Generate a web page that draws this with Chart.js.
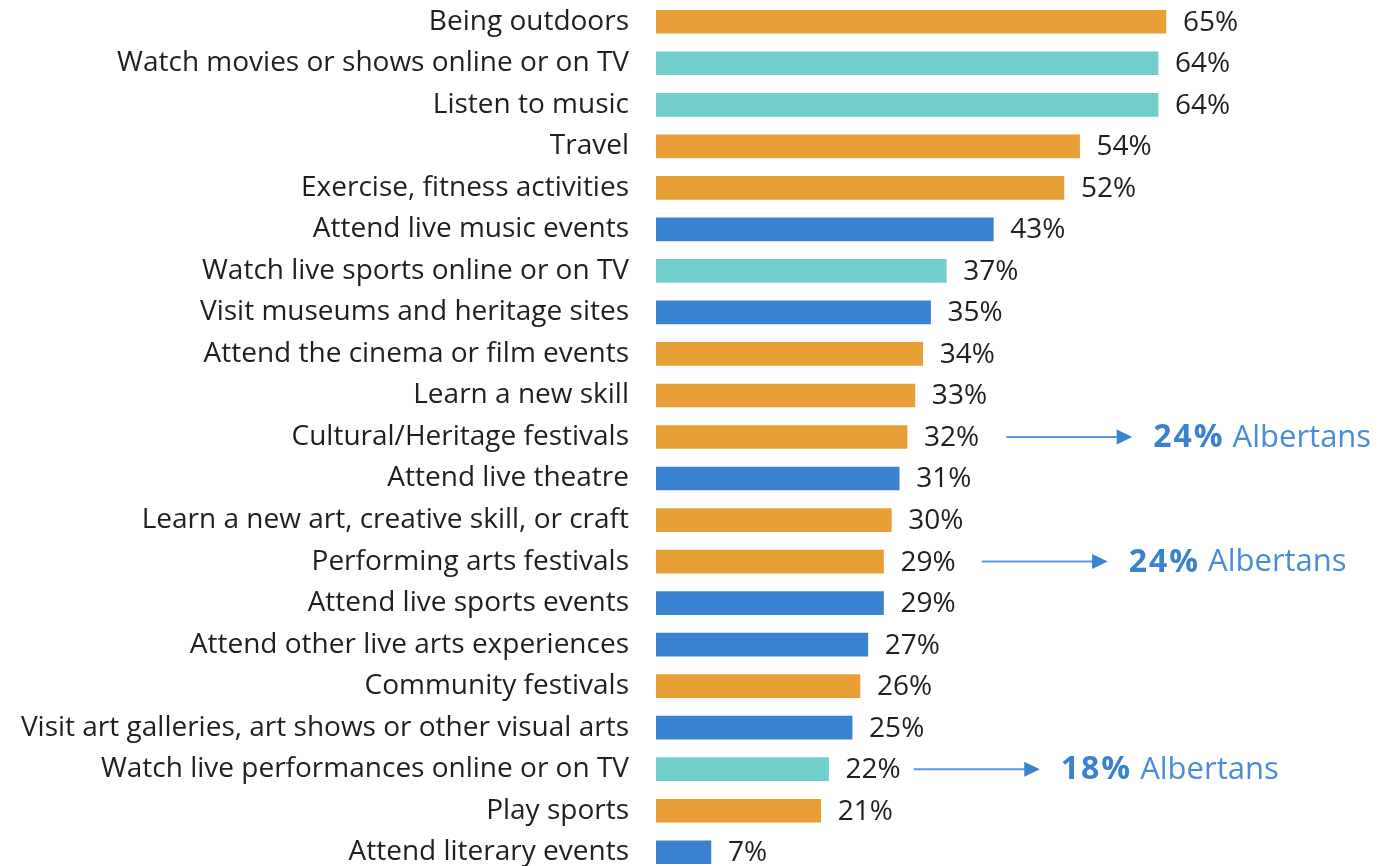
<!DOCTYPE html>
<html>
<head>
<meta charset="utf-8">
<script src="https://cdn.jsdelivr.net/npm/chart.js@4"></script>
<style>
  html, body { margin:0; padding:0; background:#fff; overflow:hidden; }
  canvas { display:block; }
</style>
</head>
<body>
<canvas id="chart" width="1383" height="874"></canvas>
<script>
// activities, share of respondents (%)
const activities = [
  'Being outdoors', 'Watch movies or shows online or on TV', 'Listen to music', 'Travel',
  'Exercise, fitness activities', 'Attend live music events', 'Watch live sports online or on TV',
  'Visit museums and heritage sites', 'Attend the cinema or film events', 'Learn a new skill',
  'Cultural/Heritage festivals', 'Attend live theatre', 'Learn a new art, creative skill, or craft',
  'Performing arts festivals', 'Attend live sports events', 'Attend other live arts experiences',
  'Community festivals', 'Visit art galleries, art shows or other visual arts',
  'Watch live performances online or on TV', 'Play sports', 'Attend literary events'
];
const shares = [65, 64, 64, 54, 52, 43, 37, 35, 34, 33, 32, 31, 30, 29, 29, 27, 26, 25, 22, 21, 7];
// o = orange, t = teal, b = blue
const groups = ['o','t','t','o','o','b','t','b','o','o','o','b','o','o','b','b','o','b','t','o','b'];

// Alberta comparison callouts
const noteRows = [10, 13, 18];
const noteValues = ['24%', '24%', '18%'];
const noteSuffix = 'Albertans';

const COLORS = { o:'#E89F35', t:'#72CECB', b:'#3A82D0' };
const ACCENT = '#3A82D0';
const FONT = '"Open Sans", Lato, sans-serif';
// gap between a value label and its callout arrow (hand placed in the original)
const ARROW_GAP = { 10:27, 13:26, 18:13 };

const valueLabels = {
  id:'valueLabels',
  afterDatasetsDraw(chart){
    const ctx = chart.ctx;
    const meta = chart.getDatasetMeta(0);
    ctx.save();
    ctx.font = '28px ' + FONT;
    ctx.fillStyle = '#1f1f1f';
    ctx.textBaseline = 'middle';
    ctx.textAlign = 'left';
    const ends = [];
    meta.data.forEach((bar, i) => {
      const txt = shares[i] + '%';
      const x = bar.x + 17;
      ctx.fillText(txt, x, bar.y + 1);
      ends.push(x + ctx.measureText(txt).width);
    });

    noteRows.forEach((row, k) => {
      const y = meta.data[row].y;
      const x0 = ends[row] + ARROW_GAP[row];
      const x1 = x0 + 126;
      ctx.strokeStyle = '#5E99DA';
      ctx.lineWidth = 2;
      ctx.beginPath();
      ctx.moveTo(x0, y);
      ctx.lineTo(x1 - 14, y);
      ctx.stroke();
      ctx.fillStyle = ACCENT;
      ctx.beginPath();
      ctx.moveTo(x1 - 15.5, y - 7.5);
      ctx.lineTo(x1, y);
      ctx.lineTo(x1 - 15.5, y + 7.5);
      ctx.closePath();
      ctx.fill();

      let tx = x1 + 21;
      ctx.font = 'bold 32px ' + FONT;
      ctx.letterSpacing = '2px';
      ctx.fillText(noteValues[k], tx, y + 1);
      tx += ctx.measureText(noteValues[k]).width + 8;
      ctx.letterSpacing = '0px';
      ctx.font = '31px ' + FONT;
      ctx.fillStyle = '#4A8DD6';
      ctx.fillText(noteSuffix, tx, y + 1);
    });
    ctx.restore();
  }
};

new Chart(document.getElementById('chart'), {
  type:'bar',
  data:{
    labels:activities,
    datasets:[{
      data:shares,
      backgroundColor:groups.map(g => COLORS[g]),
      borderWidth:0,
      barThickness:23
    }]
  },
  options:{
    indexAxis:'y',
    responsive:false,
    animation:false,
    layout:{ padding:{ top:1, bottom:1, left:0, right:21 } },
    plugins:{ legend:{ display:false }, tooltip:{ enabled:false } },
    scales:{
      x:{ display:false, min:0, max:90 },
      y:{
        grid:{ display:false, drawTicks:false },
        border:{ display:false },
        ticks:{ color:'#1f1f1f', padding:27, font:{ family:FONT, size:28 }, autoSkip:false },
        afterFit(scale){
          scale.width = 656;
          scale.paddingTop = 0;
          scale.paddingBottom = 0;
        }
      }
    }
  },
  plugins:[valueLabels]
});
</script>
</body>
</html>
